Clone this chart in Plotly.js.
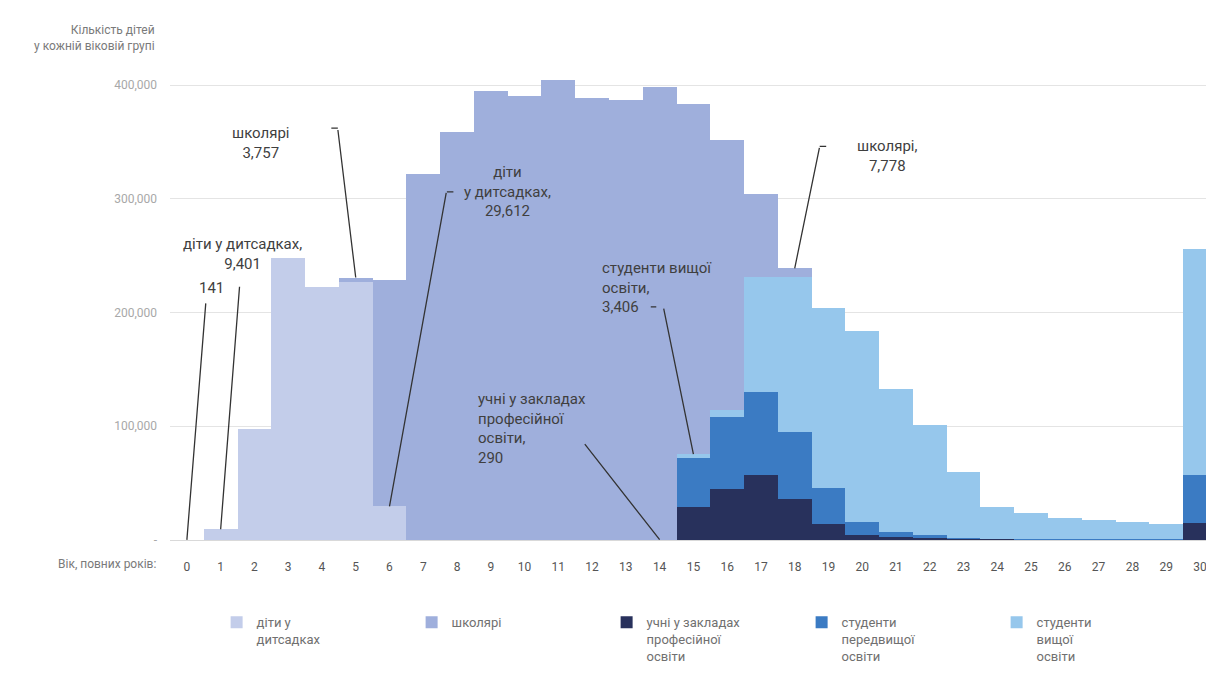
<!DOCTYPE html>
<html>
<head>
<meta charset="utf-8">
<script src="https://cdn.plot.ly/plotly-3.0.1.min.js"></script>
<style>html,body{margin:0;padding:0;background:#fff;}#chart{width:1206px;height:675px;}</style>
</head>
<body>
<div id="chart"></div>
<script>
// Ages (years completed)
const ages = ['0','1','2','3','4','5','6','7','8','9','10','11','12','13','14','15','16','17','18','19','20','21','22','23','24','25','26','27','28','29','30'];

// Series values (number of children/young people in each age group)
const kindergarten = [141, 9401, 98000, 248000, 222000, 227000, 29612, 0, 0, 0, 0, 0, 0, 0, 0, 0, 0, 0, 0, 0, 0, 0, 0, 0, 0, 0, 0, 0, 0, 0, 0];
const schoolchildren = [0, 0, 0, 0, 0, 3757, 199400, 322000, 359000, 395000, 390000, 404000, 389000, 387000, 397700, 307600, 238000, 73000, 7778, 0, 0, 0, 0, 0, 0, 0, 0, 0, 0, 0, 0];
const vocational = [0, 0, 0, 0, 0, 0, 0, 0, 0, 0, 0, 0, 0, 0, 290, 29000, 45000, 57000, 36000, 14000, 4500, 2500, 1500, 800, 500, 400, 300, 300, 300, 300, 15000];
const preHigher = [0, 0, 0, 0, 0, 0, 0, 0, 0, 0, 0, 0, 0, 0, 0, 43000, 63000, 73000, 59000, 32000, 11500, 4500, 2500, 1200, 600, 500, 400, 300, 300, 200, 42000];
const higher = [0, 0, 0, 0, 0, 0, 0, 0, 0, 0, 0, 0, 0, 0, 0, 3406, 6000, 101000, 136000, 158000, 168000, 126000, 97000, 58000, 28000, 22500, 18500, 17300, 15400, 13500, 199000];

// Labels
const seriesNames = ['діти у<br>дитсадках', 'школярі', 'учні у закладах<br>професійної<br>освіти', 'студенти<br>передвищої<br>освіти', 'студенти<br>вищої<br>освіти'];
const yTickVals = [0, 100000, 200000, 300000, 400000];
const yTickText = ['-', '100,000', '200,000', '300,000', '400,000'];

const colors = {kg:'#c3cdea', school:'#9fafdc', voc:'#28315c', pre:'#3b7bc3', higher:'#96c7ec'};
const FONT = 'Liberation Sans Narrow, Roboto, Liberation Sans, sans-serif';

function bar(y, name, color, rank){
  return {type:'bar', x:ages, y:y, name:name, legendrank:rank,
    marker:{color:color, line:{width:0}}, hoverinfo:'x+y+name'};
}
// stacking order bottom->top: kindergarten, vocational, pre-higher, higher, school
const data = [
  bar(kindergarten, seriesNames[0], colors.kg, 1),
  bar(vocational, seriesNames[2], colors.voc, 3),
  bar(preHigher, seriesNames[3], colors.pre, 4),
  bar(higher, seriesNames[4], colors.higher, 5),
  bar(schoolchildren, seriesNames[1], colors.school, 2)
];

function stackTop(i){ return kindergarten[i]+vocational[i]+preHigher[i]+higher[i]+schoolchildren[i]; }

const txtFont = {family:FONT, size:15, color:'#3f3f3f'};
const lineCol = '#333333';
function leader(x, y, ax, ay){
  return {x:x, y:y, xref:'x', yref:'y', text:'', showarrow:true, arrowhead:0, arrowwidth:1.3, arrowcolor:lineCol, ax:ax, ay:ay, standoff:0, startstandoff:0};
}
function label(x, y, text, align, xanchor){
  return {x:x, y:y, xref:'x', yref:'y', text:text, showarrow:false, font:txtFont, align:align, xanchor:xanchor||'center', yanchor:'middle'};
}

const annotations = [
  // 141 (age 0 kindergarten)
  leader(0, kindergarten[0], 19, -238),
  label(0.74, 221500, '141', 'center'),
  // 9,401 (age 1 kindergarten)
  leader(1, kindergarten[1], 19, -244),
  label(1.65, 251000, 'діти у дитсадках,<br>9,401', 'center'),
  // школярі 3,757 (age 5)
  leader(5, stackTop(5), -18, -149),
  leader(4.47, 362000, -8, 0),
  label(2.19, 349000, 'школярі<br>3,757', 'center'),
  // діти у дитсадках 29,612 (age 6)
  leader(6, kindergarten[6], 57, -315),
  leader(7.7, 306000, 8, 0),
  label(9.5, 306000, 'діти<br>у дитсадках,<br>29,612', 'center'),
  // студенти вищої освіти 3,406 (age 15)
  leader(15, vocational[15]+preHigher[15]+higher[15], -30, -147),
  leader(13.9, 205000, -7, 0),
  label(12.23, 222400, 'студенти вищої<br>освіти,<br>3,406', 'left', 'left'),
  // учні ... 290 (age 14)
  leader(14, vocational[14], -76, -97),
  label(8.56, 97600, 'учні у закладах<br>професійної<br>освіти,<br>290', 'left', 'left'),
  // школярі 7,778 (age 18)
  leader(18, stackTop(18), 25, -122),
  leader(18.74, 346000, 8, 0),
  label(20.76, 337600, 'школярі,<br>7,778', 'center'),
  // axis captions
  {x:-0.0125, y:1.082, xref:'paper', yref:'paper', xanchor:'right', yanchor:'top', align:'right', showarrow:false,
   text:'Кількість дітей<br>у кожній віковій групі', font:{family:FONT, size:12, color:'#7a7a7a'}},
  {x:-0.012, y:-0.05, xref:'paper', yref:'paper', xanchor:'right', yanchor:'middle', showarrow:false,
   text:'Вік, повних років:', font:{family:FONT, size:12, color:'#7a7a7a'}}
];

const layout = {
  width:1206, height:675,
  margin:{l:170, r:0, t:60, b:135},
  paper_bgcolor:'#ffffff', plot_bgcolor:'#ffffff',
  barmode:'stack', bargap:0,
  font:{family:FONT, size:12, color:'#555'},
  showlegend:true,
  legend:{orientation:'h', x:0.045, xanchor:'left', y:-0.14, yanchor:'top', valign:'top',
    traceorder:'normal', entrywidth:150, entrywidthmode:'pixels',
    font:{family:FONT, size:13, color:'#707070'}, itemwidth:30, tracegroupgap:0},
  xaxis:{type:'category', range:[-0.5, 30.18], showgrid:false, zeroline:false, showline:false,
    ticks:'', ticklabelstandoff:18, tickfont:{family:FONT, size:12, color:'#555'}, fixedrange:true},
  yaxis:{range:[0, 421978], tickvals:yTickVals, ticktext:yTickText, showgrid:true, gridcolor:'#e4e4e4', gridwidth:1,
    zeroline:true, zerolinecolor:'#d9d9d9', showline:false, ticks:'', ticklabelstandoff:12,
    tickfont:{family:FONT, size:12, color:'#a8a8a8'}, fixedrange:true},
  annotations:annotations
};

Plotly.newPlot('chart', data, layout, {displayModeBar:false, staticPlot:true});
</script>
</body>
</html>
